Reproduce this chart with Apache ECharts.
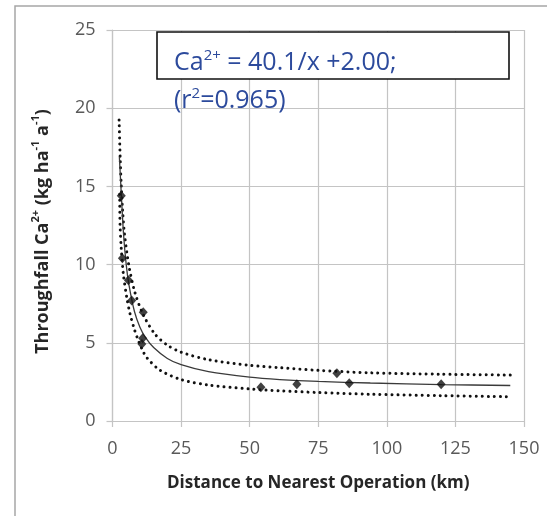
<!DOCTYPE html>
<html>
<head>
<meta charset="utf-8">
<script src="https://cdn.jsdelivr.net/npm/echarts@6/dist/echarts.min.js"></script>
<style>
html,body{margin:0;padding:0;background:#fff;}
#chart{width:547px;height:516px;}
</style>
</head>
<body>
<div id="chart"></div>
<script>
// Observed data points (distance km, throughfall Ca2+)
const pointX = [3.2, 3.6, 5.8, 7.0, 11.2, 11.0, 10.7, 54.1, 67.2, 81.8, 86.3, 119.8];
const pointY = [14.4, 10.4, 9.0, 7.7, 6.95, 5.29, 4.92, 2.15, 2.35, 3.05, 2.41, 2.35];

// Fitted curve (solid)
const fitX = [2.5, 3, 4, 5, 6, 8, 10, 12, 15, 20, 25, 35, 50, 61, 75, 94, 120, 145];
const fitY = [16.9, 15.2, 12.0, 10.0, 8.7, 7.0, 6.0, 5.35, 4.7, 4.0, 3.6, 3.15, 2.8, 2.65, 2.53, 2.43, 2.33, 2.27];

// Upper dotted band
const upX = [2.4, 2.8, 3.2, 3.7, 4.4, 6, 8.2, 11.2, 15.5, 20, 25, 35, 50, 61, 75, 94, 120, 145];
const upY = [19.25, 16.8, 15.0, 13.4, 11.9, 9.9, 8.2, 6.8, 5.55, 4.85, 4.4, 3.92, 3.56, 3.41, 3.24, 3.08, 2.99, 2.94];

// Lower dotted band
const loX = [2.6, 2.74, 3.2, 3.95, 5.2, 6.4, 8, 9.4, 11, 12.5, 17.3, 25, 35, 50, 61, 75, 94, 120, 145];
const loY = [14.5, 12.6, 11.0, 9.4, 7.9, 6.85, 5.85, 5.15, 4.5, 4.05, 3.25, 2.65, 2.3, 2.05, 1.93, 1.82, 1.71, 1.62, 1.55];

// Axis ticks
const xTicks = [0, 25, 50, 75, 100, 125, 150];
const yTicks = [0, 5, 10, 15, 20, 25];

const zip = (xs, ys) => xs.map((x, i) => [x, ys[i]]);

const chart = echarts.init(document.getElementById('chart'), null, {renderer: 'canvas'});
const gridCol = '#c4c4c4';
const labelFont = 'Open Sans';
const blue = '#2c4a9c';

chart.setOption({
  animation: false,
  backgroundColor: '#ffffff',
  grid: {left: 112.5, right: 23, top: 30, bottom: 95},
  xAxis: {
    type: 'value', min: xTicks[0], max: xTicks[xTicks.length - 1], interval: 25,
    axisLine: {show: true, lineStyle: {color: gridCol, width: 1.2}},
    axisTick: {show: true, length: 6, lineStyle: {color: gridCol, width: 1.2}},
    splitLine: {show: true, lineStyle: {color: gridCol, width: 1.2}},
    axisLabel: {color: '#595959', fontFamily: labelFont, fontSize: 18, margin: 19},
    name: 'Distance to Nearest Operation (km)',
    nameLocation: 'middle', nameGap: 54,
    nameTextStyle: {color: '#262626', fontFamily: labelFont, fontSize: 17, fontWeight: 'bold'}
  },
  yAxis: {
    type: 'value', min: yTicks[0], max: yTicks[yTicks.length - 1], interval: 5,
    axisLine: {show: true, lineStyle: {color: gridCol, width: 1.2}},
    axisTick: {show: true, length: 6, lineStyle: {color: gridCol, width: 1.2}},
    splitLine: {show: true, lineStyle: {color: gridCol, width: 1.2}},
    axisLabel: {color: '#595959', fontFamily: labelFont, fontSize: 18, margin: 17},
    name: '{b|Throughfall Ca}{s|2+}{b| (kg ha}{s|-1}{b| a}{s|-1}{b|)}',
    nameLocation: 'middle', nameGap: 58, nameRotate: 90,
    nameTextStyle: {
      color: '#262626',
      padding: [0, 12, 0, 0],
      rich: {
        b: {fontFamily: labelFont, fontSize: 18, fontWeight: 'bold', color: '#262626', lineHeight: 24},
        s: {fontFamily: labelFont, fontSize: 11, fontWeight: 'bold', color: '#262626', lineHeight: 24, verticalAlign: 'top', padding: [0, 0, 9, 0]}
      }
    }
  },
  series: [
    {
      type: 'line', data: zip(upX, upY), showSymbol: false, smooth: 0.3,
      lineStyle: {color: '#111', width: 3, type: [0.01, 6], cap: 'round'}, z: 3
    },
    {
      type: 'line', data: zip(loX, loY), showSymbol: false, smooth: 0.3,
      lineStyle: {color: '#111', width: 3, type: [0.01, 6], cap: 'round'}, z: 3
    },
    {
      type: 'line', data: zip(fitX, fitY), showSymbol: false, smooth: 0.3,
      lineStyle: {color: '#3a3a3a', width: 1.3}, z: 4
    },
    {
      type: 'scatter', data: zip(pointX, pointY), symbol: 'diamond', symbolSize: [9, 10],
      itemStyle: {color: '#111'}, z: 5
    }
  ],
  graphic: [
    {type: 'rect', shape: {x: 15, y: 6, width: 560, height: 540}, style: {fill: 'none', stroke: '#a6a6a6', lineWidth: 1.5}, z: 0, silent: true},
    {type: 'rect', shape: {x: 157, y: 32, width: 352, height: 47}, style: {fill: '#ffffff', stroke: '#111', lineWidth: 1.6}, z: 10},
    {type: 'text', x: 174, y: 63, z: 11, style: {
      text: '{n|Ca}{s|2+}{n| = 40.1/x +2.00;}',
      rich: {
        n: {fontFamily: labelFont, fontSize: 25, fill: blue, lineHeight: 30},
        s: {fontFamily: labelFont, fontSize: 15, fill: blue, lineHeight: 30, verticalAlign: 'top', padding: [0, 0, 11, 0]}
      },
      verticalAlign: 'middle'
    }},
    {type: 'text', x: 174, y: 101, z: 11, style: {
      text: '{n|(r}{s|2}{n|=0.965)}',
      rich: {
        n: {fontFamily: labelFont, fontSize: 25, fill: blue, lineHeight: 30},
        s: {fontFamily: labelFont, fontSize: 15, fill: blue, lineHeight: 30, verticalAlign: 'top', padding: [0, 0, 11, 0]}
      },
      verticalAlign: 'middle'
    }}
  ]
});
</script>
</body>
</html>
